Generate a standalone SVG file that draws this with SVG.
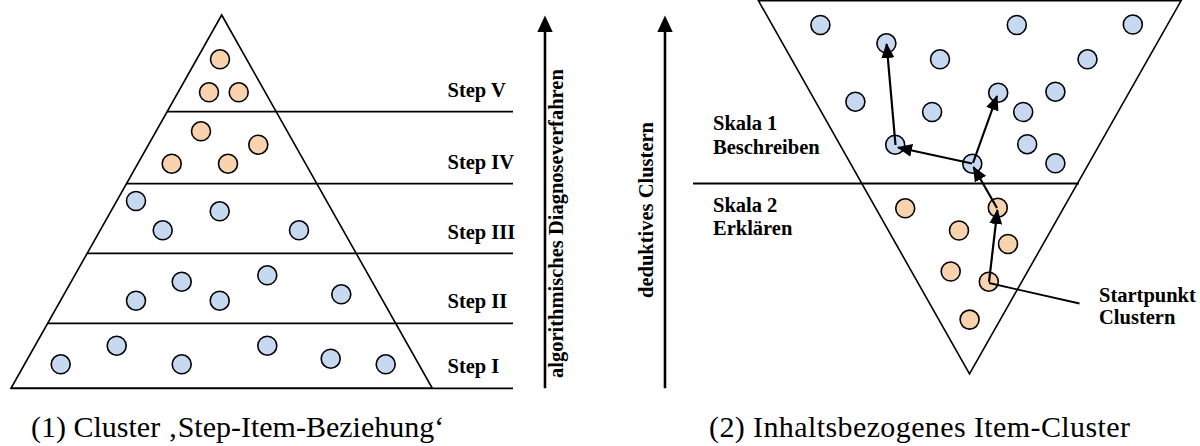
<svg xmlns="http://www.w3.org/2000/svg" width="1200" height="446" viewBox="0 0 1200 446">
<style>
.shape{fill:none;stroke:#000;stroke-width:1.6}
.ln{stroke:#000;stroke-width:1.8;fill:none}
.o{fill:#F8D3AE;stroke:#000;stroke-width:1.6}
.b{fill:#C6D9F0;stroke:#000;stroke-width:1.6}
.lbl{font-family:"Liberation Serif",serif;font-weight:bold;font-size:20.5px;fill:#000}
.cap{font-family:"Liberation Serif",serif;font-size:30px;fill:#000}
.arr{stroke:#000;stroke-width:2.2;fill:none}
.big{stroke:#000;stroke-width:2.6;fill:none}
</style>
<defs>
<marker id="ah" markerUnits="userSpaceOnUse" markerWidth="15" markerHeight="13" refX="14" refY="6.5" orient="auto">
<path d="M0,0 L15,6.5 L0,13 z" fill="#000"/>
</marker>
</defs>

<g id="pyramid">
<polygon class="shape" points="221.7,15 11,388.3 432.3,388.3"/>
<line class="ln" x1="167" y1="111.7" x2="513" y2="111.7"/>
<line class="ln" x1="126.5" y1="183.7" x2="513" y2="183.7"/>
<line class="ln" x1="87.2" y1="253.3" x2="513" y2="253.3"/>
<line class="ln" x1="47.7" y1="323.3" x2="513" y2="323.3"/>
<line class="ln" x1="11" y1="388.3" x2="513" y2="388.3"/>
</g>

<g id="pyramid-items">
<circle class="o" cx="220" cy="59.3" r="9.5"/>
<circle class="o" cx="209" cy="92.3" r="9.5"/>
<circle class="o" cx="238.7" cy="92.3" r="9.5"/>
<circle class="o" cx="201" cy="131.3" r="9.5"/>
<circle class="o" cx="258.3" cy="144.7" r="9.5"/>
<circle class="o" cx="171.7" cy="163.7" r="9.5"/>
<circle class="o" cx="228" cy="163.7" r="9.5"/>
<circle class="b" cx="136" cy="201" r="9.5"/>
<circle class="b" cx="219.7" cy="211.3" r="9.5"/>
<circle class="b" cx="162.7" cy="230.3" r="9.5"/>
<circle class="b" cx="299" cy="230.3" r="9.5"/>
<circle class="b" cx="181.7" cy="281.7" r="9.5"/>
<circle class="b" cx="267.3" cy="275.3" r="9.5"/>
<circle class="b" cx="136" cy="300.7" r="9.5"/>
<circle class="b" cx="219.7" cy="300.7" r="9.5"/>
<circle class="b" cx="341.3" cy="294.3" r="9.5"/>
<circle class="b" cx="116.7" cy="345.7" r="9.5"/>
<circle class="b" cx="267.3" cy="345.7" r="9.5"/>
<circle class="b" cx="60.7" cy="364.3" r="9.5"/>
<circle class="b" cx="181.7" cy="364.3" r="9.5"/>
<circle class="b" cx="330.7" cy="358.7" r="9.5"/>
<circle class="b" cx="385.7" cy="364.3" r="9.5"/>
</g>

<g id="step-labels">
<text class="lbl" x="447.5" y="97">Step V</text>
<text class="lbl" x="447.5" y="169">Step IV</text>
<text class="lbl" x="447.5" y="239">Step III</text>
<text class="lbl" x="447.5" y="308">Step II</text>
<text class="lbl" x="447.5" y="373">Step I</text>
</g>

<g id="axis-left">
<line class="big" x1="545" y1="388.3" x2="545" y2="30"/>
<polygon points="545,15.5 537.3,32 552.7,32" fill="#000"/>
<text class="lbl" transform="translate(563,378) rotate(-90)">algorithmisches Diagnoseverfahren</text>
</g>

<g id="axis-right">
<line class="big" x1="665" y1="388.3" x2="665" y2="30"/>
<polygon points="665,15.5 657.3,32 672.7,32" fill="#000"/>
<text class="lbl" transform="translate(653,298) rotate(-90)">deduktives Clustern</text>
</g>

<g id="funnel">
<polygon class="shape" points="758.5,0.8 1181,0.8 969.5,374"/>
<line class="ln" x1="693" y1="183.5" x2="1079" y2="183.5"/>
</g>

<g id="funnel-items">
<circle class="b" cx="820.4" cy="25" r="9.5"/>
<circle class="b" cx="1016.8" cy="25" r="9.5"/>
<circle class="b" cx="1132.8" cy="24.5" r="9.5"/>
<circle class="b" cx="886.4" cy="43.3" r="9.5"/>
<circle class="b" cx="940" cy="59.3" r="9.5"/>
<circle class="b" cx="1087.5" cy="59.3" r="9.5"/>
<circle class="b" cx="855.4" cy="101.7" r="9.5"/>
<circle class="b" cx="932.1" cy="112" r="9.5"/>
<circle class="b" cx="998.2" cy="92.7" r="9.5"/>
<circle class="b" cx="1055.4" cy="91.7" r="9.5"/>
<circle class="b" cx="1023.2" cy="112" r="9.5"/>
<circle class="b" cx="895.2" cy="144.7" r="9.5"/>
<circle class="b" cx="1027.2" cy="144.2" r="9.5"/>
<circle class="b" cx="972.3" cy="163.7" r="9.5"/>
<circle class="b" cx="1055.4" cy="163.3" r="9.5"/>
<circle class="o" cx="905.2" cy="208.3" r="9.5"/>
<circle class="o" cx="997.8" cy="207.7" r="9.5"/>
<circle class="o" cx="959" cy="230.5" r="9.5"/>
<circle class="o" cx="1008" cy="244" r="9.5"/>
<circle class="o" cx="950.7" cy="271.5" r="9.5"/>
<circle class="o" cx="988.8" cy="281.7" r="9.5"/>
<circle class="o" cx="969.6" cy="319.6" r="9.5"/>
</g>

<g id="connectors">
<line class="arr" x1="989" y1="282" x2="997.4" y2="210" marker-end="url(#ah)"/>
<line class="arr" x1="997" y1="208" x2="973.5" y2="167" marker-end="url(#ah)"/>
<line class="arr" x1="973" y1="163" x2="997" y2="96" marker-end="url(#ah)"/>
<line class="arr" x1="972" y1="163.5" x2="898" y2="147.5" marker-end="url(#ah)"/>
<line class="arr" x1="895.5" y1="145" x2="886.6" y2="44" marker-end="url(#ah)"/>
<line class="ln" x1="989" y1="283" x2="1079.5" y2="303.5"/>
</g>

<g id="funnel-labels">
<text class="lbl" x="713" y="130">Skala 1</text>
<text class="lbl" x="713" y="153.5">Beschreiben</text>
<text class="lbl" x="713" y="211.5">Skala 2</text>
<text class="lbl" x="713" y="235">Erklären</text>
<text class="lbl" x="1099" y="301.5">Startpunkt</text>
<text class="lbl" x="1099" y="324">Clustern</text>
</g>

<g id="captions">
<text class="cap" x="31" y="437">(1) Cluster ‚Step-Item-Beziehung‘</text>
<text class="cap" x="709" y="437" textLength="421" lengthAdjust="spacing">(2) Inhaltsbezogenes Item-Cluster</text>
</g>
</svg>
